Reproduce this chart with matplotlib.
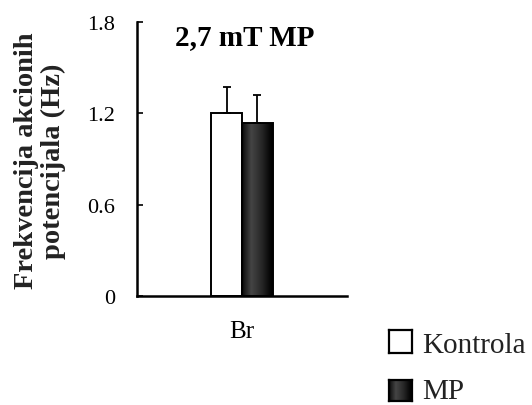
import numpy as np
import matplotlib
matplotlib.use("Agg")
import matplotlib.pyplot as plt
from matplotlib.colors import LinearSegmentedColormap

plt.rcParams["font.family"] = "serif"
plt.rcParams["font.serif"] = ["Liberation Serif", "DejaVu Serif"]

# data
groups = ["Kontrola", "MP"]
category = "Br"
means = [1.20, 1.135]
errors = [0.17, 0.185]
y_ticks = [0, 0.6, 1.2, 1.8]
y_tick_labels = ["0", "0.6", "1.2", "1.8"]

title = "2,7 mT MP"
ylabel = "Frekvencija akcionih\npotencijala (Hz)"

# dark metallic gradient used for the MP bar
grad_cmap = LinearSegmentedColormap.from_list(
    "mp_grad",
    [(0.0, "#050505"), (0.08, "#1a1a1a"), (0.3, "#454545"),
     (0.65, "#262626"), (0.92, "#050505"), (1.0, "#000000")])
grad = np.linspace(0, 1, 256).reshape(1, -1)

fig = plt.figure(figsize=(5.32, 4.06), dpi=100)
ax = fig.add_axes([137 / 532, 1 - 297 / 406, 210 / 532, 274 / 406])

width = 0.1476
xpos = [-width / 2, width / 2]
bars = ax.bar(xpos, means, width=width, color=["white", "none"],
              edgecolor="black", linewidth=1.4, zorder=2)
ax.errorbar(xpos, means, yerr=[[0, 0], errors], fmt="none", ecolor="black",
            elinewidth=1.3, capsize=2.8, capthick=1.3, zorder=3)

# gradient fill clipped to the MP bar
mp = bars[1]
im = ax.imshow(grad, cmap=grad_cmap, aspect="auto", zorder=1.5,
               extent=[mp.get_x(), mp.get_x() + width, 0, means[1]],
               vmin=0, vmax=1)
im.set_clip_path(mp)

ax.set_xlim(-0.5, 0.5)
ax.set_ylim(0, 1.8)
ax.set_yticks(y_ticks)
ax.set_yticklabels(y_tick_labels)
ax.set_xticks([0])
ax.set_xticklabels([category])
ax.tick_params(axis="y", direction="in", length=4, width=1.2, pad=16, labelsize=16)
ax.tick_params(axis="x", length=0, pad=17, labelsize=18)
for s in ["top", "right"]:
    ax.spines[s].set_visible(False)
for s in ["left", "bottom"]:
    ax.spines[s].set_linewidth(1.8)

fig.text(245 / 532, 1 - 45 / 406, title, ha="center", va="baseline",
         fontsize=21, fontweight="bold")
fig.text(40 / 532, 1 - 161 / 406, ylabel, rotation=90, ha="center",
         va="center", multialignment="center", fontsize=20.5,
         fontweight="bold", linespacing=1.05, color="#222222")

# legend built from small boxes
lx, lw = 389 / 532, 23 / 532
box1 = fig.add_axes([lx, 1 - 354 / 406, lw, 23 / 406])
box1.set_xticks([]); box1.set_yticks([])
box2 = fig.add_axes([lx, 1 - 402 / 406, lw, 21 / 406])
box2.imshow(grad, cmap=grad_cmap, aspect="auto", vmin=0, vmax=1)
box2.set_xticks([]); box2.set_yticks([])
for b in (box1, box2):
    for s in b.spines.values():
        s.set_linewidth(1.6)
fig.text(422 / 532, 1 - 353 / 406, groups[0], ha="left", va="baseline",
         fontsize=21, color="#222222")
fig.text(422 / 532, 1 - 399 / 406, groups[1], ha="left", va="baseline",
         fontsize=21, color="#222222")

fig.savefig("out.png", dpi=100)
